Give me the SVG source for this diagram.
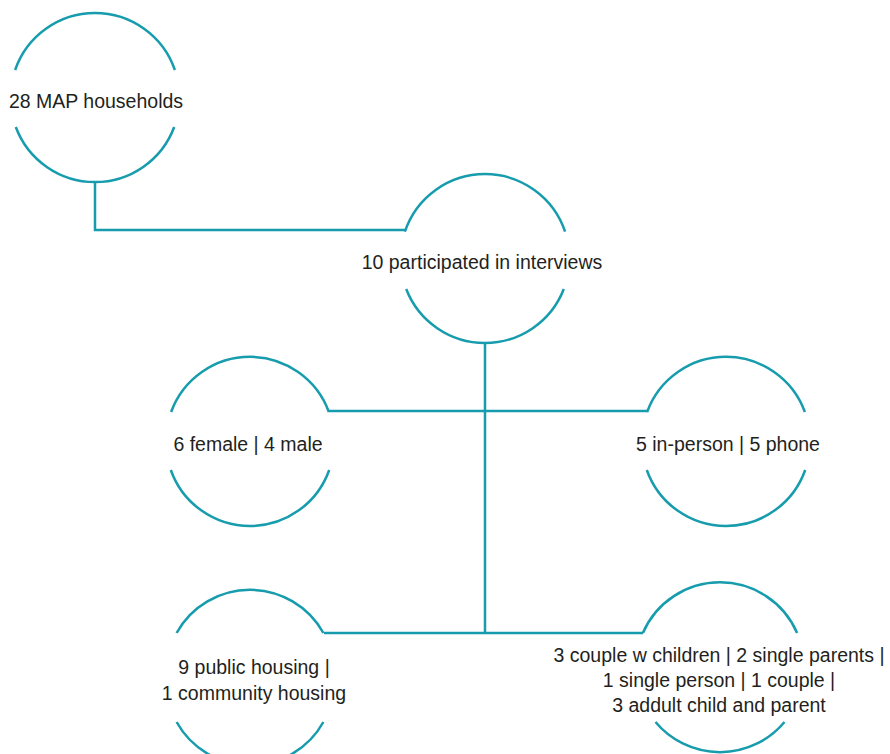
<svg xmlns="http://www.w3.org/2000/svg" width="890" height="754" viewBox="0 0 890 754">
<style>
.arc{fill:none;stroke:#179cad;stroke-width:2.5}
.con{fill:none;stroke:#179cad;stroke-width:2.5}
text{font-family:"Liberation Sans",Arial,sans-serif;font-size:19.5px;fill:#231f20;text-anchor:middle}
</style>
<rect width="890" height="754" fill="#ffffff"/>
<g id="connectors">
<polyline class="con" points="95,182 95,230 406,230"/>
<line class="con" x1="485" y1="343" x2="485" y2="633"/>
<line class="con" x1="329" y1="411" x2="648" y2="411"/>
<line class="con" x1="324" y1="633" x2="643" y2="633"/>
</g>
<g id="n1">
<path class="arc" d="M15.1,70 A84.5,84.5 0 0 1 174.9,70"/>
<path class="arc" d="M15.8,127 A84.5,84.5 0 0 0 174.2,127"/>
<text x="96" y="108">28 MAP households</text>
</g>
<g id="n2">
<path class="arc" d="M404.9,231.7 A84.5,84.5 0 0 1 565.1,231.7"/>
<path class="arc" d="M406.2,289 A84.5,84.5 0 0 0 563.8,289"/>
<text x="482" y="269">10 participated in interviews</text>
</g>
<g id="n3">
<path class="arc" d="M171.1,412 A84,84 0 0 1 328.9,412"/>
<path class="arc" d="M170.8,470 A84,84 0 0 0 329.2,470"/>
<text x="248" y="451">6 female | 4 male</text>
</g>
<g id="n4">
<path class="arc" d="M647.1,412 A84,84 0 0 1 804.9,412"/>
<path class="arc" d="M646.8,470 A84,84 0 0 0 805.2,470"/>
<text x="728" y="451">5 in-person | 5 phone</text>
</g>
<g id="n5">
<path class="arc" d="M176.6,633 A84,84 0 0 1 323.4,633"/>
<path class="arc" d="M176.6,722 A84,84 0 0 0 323.4,722"/>
<text x="254" y="674">9 public housing |</text>
<text x="254" y="700">1 community housing</text>
</g>
<g id="n6">
<path class="arc" d="M642.9,633 A84,84 0 0 1 797.1,633"/>
<path class="arc" d="M655.5,722 A84,84 0 0 0 784.5,722"/>
<text x="719" y="662">3 couple w children | 2 single parents |</text>
<text x="719" y="687">1 single person | 1 couple |</text>
<text x="719" y="712">3 addult child and parent</text>
</g>
</svg>
